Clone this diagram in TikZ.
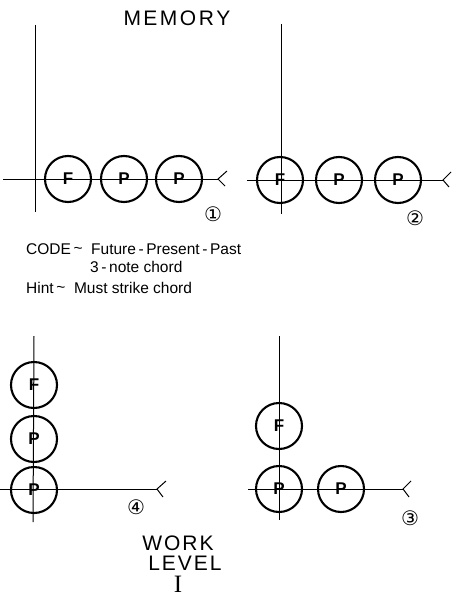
\documentclass[tikz,border=0pt]{standalone}
\usepackage{fontspec}
\setmainfont{Liberation Sans}
\newfontfamily\symfont{DejaVu Sans}
\newfontfamily\serfont{Liberation Serif}
\begin{document}
\begin{tikzpicture}[x=1pt,y=-1pt,
  axis/.style={line width=1pt},
  note/.style={circle,draw,line width=2.1pt,minimum size=46pt,inner sep=0pt,font=\bfseries\fontsize{17}{17}\selectfont},
  tail/.style={line width=1pt},
  numlbl/.style={font=\symfont\fontsize{20}{20}\selectfont},
  hand/.style={font=\fontsize{15.5}{16}\selectfont,anchor=base west,inner sep=0pt},
  title/.style={font=\fontsize{21}{22}\selectfont,inner sep=0pt}]
\useasboundingbox (0,0) rectangle (459,599);
% title
\node[title] (mem) at (177,18) {M\kern2.5pt E\kern2.5pt M\kern2.5pt O\kern2.5pt R\kern2.5pt Y};
% ---------- panel 1
\coordinate (v1t) at (35,25); \coordinate (v1b) at (35,212);
\coordinate (h1l) at (3,179); \coordinate (h1r) at (218,179);
\coordinate (t1a) at (227,171); \coordinate (t1b) at (225,186);
\draw[axis] (v1t) -- (v1b);
\draw[axis] (h1l) -- (h1r);
\draw[tail] (t1a) -- (h1r) -- (t1b);
\node[note] (p1f) at (68,179) {F};
\node[note] (p1p1) at (124,179) {P};
\node[note] (p1p2) at (179,179) {P};
\node[numlbl] (n1) at (213,214) {①};
% ---------- panel 2
\coordinate (v2t) at (281,24); \coordinate (v2b) at (281,214);
\coordinate (h2l) at (247,180); \coordinate (h2r) at (443,180);
\coordinate (t2a) at (451,172); \coordinate (t2b) at (449,187);
\draw[axis] (v2t) -- (v2b);
\draw[axis] (h2l) -- (h2r);
\draw[tail] (t2a) -- (h2r) -- (t2b);
\node[note] (p2f) at (280,180) {F};
\node[note] (p2p1) at (339,180) {P};
\node[note] (p2p2) at (398,180) {P};
\node[numlbl] (n2) at (415,218) {②};
% ---------- text
\node[hand] (code) at (26,254) {CODE\,\raisebox{1pt}{\textasciitilde}\ \ Future\,-\,Present\,-\,Past};
\node[hand] (chord) at (90,272) {3\,-\,note chord};
\node[hand] (hint) at (26,293) {Hint\,\raisebox{1pt}{\textasciitilde}\ \ Must strike chord};
% ---------- panel 4
\coordinate (v4t) at (34,336); \coordinate (v4b) at (33,522);
\coordinate (h4l) at (0,489); \coordinate (h4r) at (157,489);
\coordinate (t4a) at (166,481); \coordinate (t4b) at (163,497);
\draw[axis] (v4t) -- (v4b);
\draw[axis] (h4l) -- (h4r);
\draw[tail] (t4a) -- (h4r) -- (t4b);
\node[note] (p4f) at (34,385) {F};
\node[note] (p4p1) at (34,439) {P};
\node[note] (p4p2) at (34,490) {P};
\node[numlbl] (n4) at (136,507) {④};
% ---------- panel 3
\coordinate (v3t) at (279,336); \coordinate (v3b) at (279,520);
\coordinate (h3l) at (248,489); \coordinate (h3r) at (403,489);
\coordinate (t3a) at (411,481); \coordinate (t3b) at (409,497);
\draw[axis] (v3t) -- (v3b);
\draw[axis] (h3l) -- (h3r);
\draw[tail] (t3a) -- (h3r) -- (t3b);
\node[note] (p3f) at (279,426) {F};
\node[note] (p3p1) at (279,489) {P};
\node[note] (p3p2) at (341,489) {P};
\node[numlbl] (n3) at (410,518) {③};
% ---------- bottom title
\node[title] (work) at (178,543) {W\kern2pt O\kern2pt R\kern2pt K};
\node[title] (level) at (185,563) {L\kern2pt E\kern2pt V\kern2pt E\kern2pt L};
\node[title,font=\serfont\fontsize{25}{25}\selectfont] (lvl) at (178,584) {I};
\end{tikzpicture}
\end{document}
